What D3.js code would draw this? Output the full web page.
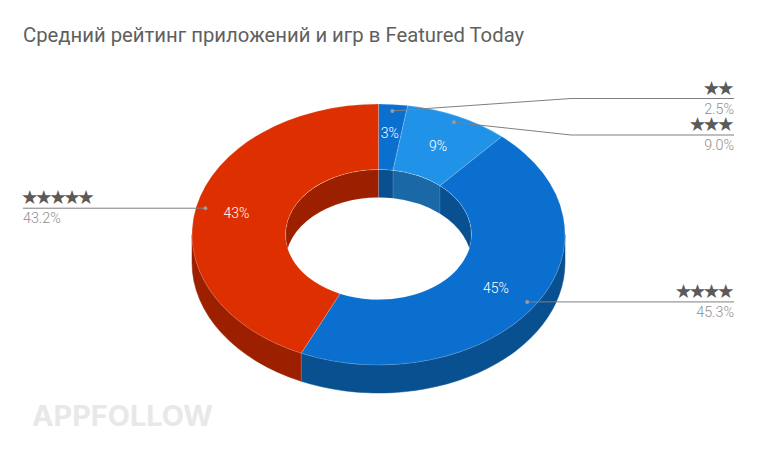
<!DOCTYPE html>
<html>
<head>
<meta charset="utf-8">
<script src="https://cdn.jsdelivr.net/npm/d3@7"></script>
<style>
  html, body { margin: 0; background: #fff; }
  svg { display: block; }
</style>
</head>
<body>
<div id="chart"></div>
<script>
const ratings = ["★★", "★★★", "★★★★", "★★★★★"];
const shares = [2.5, 9.0, 45.3, 43.2];
const valueLabels = ["2.5%", "9.0%", "45.3%", "43.2%"];
const sliceLabels = ["3%", "9%", "45%", "43%"];

const WIDTH = 757;
const HEIGHT = 458;
const cx = 378.5;
const cy = 234.5;
const rx = 186.5;
const ry = 130.5;
const innerRx = 93;
const depth = 28;
const squash = ry / rx;

const topColors = ["#0b6fd0", "#2093e8", "#0b6fd0", "#de2f00"];
const sideColors = ["#08508f", "#1a69a6", "#08508f", "#9c1f00"];

const labelRadius = [0.78, 0.75, 0.75, 0.78];
// leader line: elbow x and y, then the x where it ends
const leaders = [
  { elbow: [571, 98.5], endX: 734 },
  { elbow: [571, 135], endX: 734 },
  { elbow: null, endX: 734 },
  { elbow: null, endX: 23 },
];

const svg = d3
  .select("#chart")
  .append("svg")
  .attr("width", WIDTH)
  .attr("height", HEIGHT)
  .attr("viewBox", `0 0 ${WIDTH} ${HEIGHT}`);

svg
  .append("text")
  .attr("x", 23)
  .attr("y", 41.5)
  .attr("font-family", "Roboto")
  .attr("font-size", 20.3)
  .attr("fill", "#5f5f5f")
  .text("Средний рейтинг приложений и игр в Featured Today");

svg
  .append("text")
  .attr("x", 32)
  .attr("y", 426)
  .attr("font-family", "Inter")
  .attr("font-weight", 700)
  .attr("font-size", 28)
  .attr("textLength", 181)
  .attr("lengthAdjust", "spacingAndGlyphs")
  .attr("fill", "#e8e8e8")
  .text("APPFOLLOW");

const pie = d3.pie().value((d) => d).sort(null);
const arcs = pie(shares);

const point = (a, frac, dy = 0) => [
  cx + rx * frac * Math.sin(a),
  cy - ry * frac * Math.cos(a) + dy,
];

// band between an arc of the ellipse and the same arc moved down by depth
function wallPath(a0, a1, frac) {
  const erx = rx * frac;
  const ery = ry * frac;
  const p0 = point(a0, frac);
  const p1 = point(a1, frac);
  const p2 = point(a1, frac, depth);
  const p3 = point(a0, frac, depth);
  return (
    `M${p0}A${erx},${ery} 0 0 1 ${p1}` +
    `L${p2}A${erx},${ery} 0 0 0 ${p3}Z`
  );
}

const PI = Math.PI;
const chart = svg.append("g");

// outer walls, front half only
chart
  .append("g")
  .selectAll("path")
  .data(arcs.filter((d) => d.endAngle > PI / 2 && d.startAngle < (3 * PI) / 2))
  .join("path")
  .attr("d", (d) =>
    wallPath(Math.max(d.startAngle, PI / 2), Math.min(d.endAngle, (3 * PI) / 2), 1)
  )
  .attr("fill", (d) => sideColors[d.index])
  .attr("stroke", (d) => sideColors[d.index])
  .attr("stroke-width", 0.5);

// the seam between the two front walls
const seam = arcs[3].startAngle;
chart
  .append("line")
  .attr("x1", point(seam, 1)[0])
  .attr("y1", point(seam, 1)[1])
  .attr("x2", point(seam, 1, depth)[0])
  .attr("y2", point(seam, 1, depth)[1])
  .attr("stroke", "#fff")
  .attr("stroke-opacity", 0.35)
  .attr("stroke-width", 0.6);

// inner walls, back half, seen through the hole
svg
  .append("clipPath")
  .attr("id", "hole")
  .append("ellipse")
  .attr("cx", cx)
  .attr("cy", cy)
  .attr("rx", innerRx)
  .attr("ry", innerRx * squash);

const innerFrac = innerRx / rx;
const innerParts = [
  { i: 0, a0: arcs[0].startAngle, a1: arcs[0].endAngle },
  { i: 1, a0: arcs[1].startAngle, a1: arcs[1].endAngle },
  { i: 2, a0: arcs[2].startAngle, a1: PI / 2 },
  { i: 3, a0: (3 * PI) / 2, a1: arcs[3].endAngle },
];

chart
  .append("g")
  .attr("clip-path", "url(#hole)")
  .selectAll("path")
  .data(innerParts)
  .join("path")
  .attr("d", (d) => wallPath(d.a0, d.a1, innerFrac))
  .attr("fill", (d) => sideColors[d.i])
  .attr("stroke", "#fff")
  .attr("stroke-opacity", 0.2)
  .attr("stroke-width", 0.5);

// top face
const arc = d3.arc().innerRadius(innerRx).outerRadius(rx);
chart
  .append("g")
  .attr("transform", `translate(${cx},${cy}) scale(1,${squash})`)
  .selectAll("path")
  .data(arcs)
  .join("path")
  .attr("d", arc)
  .attr("fill", (d) => topColors[d.index])
  .attr("stroke", "#fff")
  .attr("stroke-opacity", 0.3)
  .attr("stroke-width", 0.6)
  .attr("vector-effect", "non-scaling-stroke");

const midAngle = (d) => (d.startAngle + d.endAngle) / 2;

// slice labels
chart
  .append("g")
  .selectAll("text")
  .data(arcs)
  .join("text")
  .attr("x", (d) => point(midAngle(d), labelRadius[d.index])[0])
  .attr("y", (d) => point(midAngle(d), labelRadius[d.index])[1] + 5)
  .attr("text-anchor", "middle")
  .attr("font-family", "Roboto")
  .attr("font-weight", 300)
  .attr("font-size", 14)
  .attr("fill", "#fff")
  .text((d) => sliceLabels[d.index]);

// leader lines and outside labels
const line = d3.line();
const callouts = svg.append("g").selectAll("g").data(arcs).join("g");

const anchor = (d) => point(midAngle(d), 0.95);
const legY = (d) => (leaders[d.index].elbow ? leaders[d.index].elbow[1] : anchor(d)[1]);
const isLeft = (d) => leaders[d.index].endX < cx;

callouts
  .append("path")
  .attr("fill", "none")
  .attr("stroke", "#7f7f7f")
  .attr("stroke-width", 1)
  .attr("d", (d) => {
    const leader = leaders[d.index];
    const pts = [anchor(d)];
    if (leader.elbow) pts.push(leader.elbow);
    pts.push([leader.endX, legY(d)]);
    return line(pts);
  });

callouts
  .append("circle")
  .attr("cx", (d) => anchor(d)[0])
  .attr("cy", (d) => anchor(d)[1])
  .attr("r", 2)
  .attr("fill", "#999");

// negative letter spacing also pulls the end of the run, so the right side is shifted back
callouts
  .append("text")
  .attr("x", (d) => (isLeft(d) ? leaders[d.index].endX - 2 : leaders[d.index].endX - 3))
  .attr("y", (d) => legY(d) - 4)
  .attr("text-anchor", (d) => (isLeft(d) ? "start" : "end"))
  .attr("font-family", "DejaVu Sans")
  .attr("font-size", 19.5)
  .attr("letter-spacing", -3.4)
  .attr("fill", "#5a5a5a")
  .text((d) => ratings[d.index]);

callouts
  .append("text")
  .attr("x", (d) => leaders[d.index].endX)
  .attr("y", (d) => legY(d) + 15)
  .attr("text-anchor", (d) => (isLeft(d) ? "start" : "end"))
  .attr("font-family", "Roboto")
  .attr("font-weight", 300)
  .attr("font-size", 14.3)
  .attr("fill", "#8f8f8f")
  .text((d) => valueLabels[d.index]);
</script>
</body>
</html>
